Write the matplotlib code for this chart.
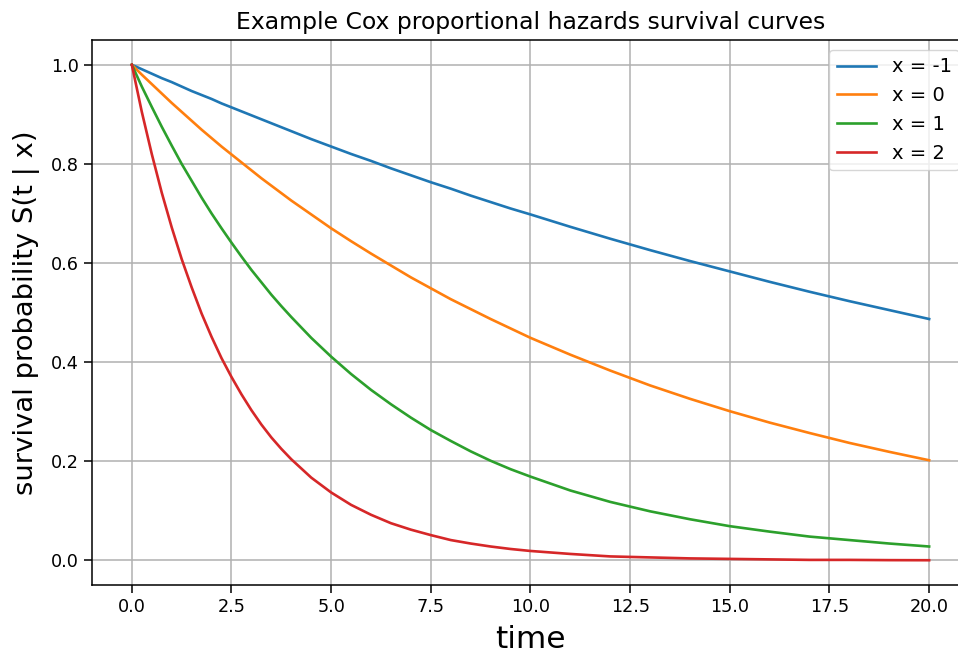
import matplotlib
matplotlib.use("Agg")
import matplotlib.pyplot as plt

# time points the curves were read at (denser where the curves bend most)
t = [0, 0.25, 0.5, 0.75, 1, 1.25, 1.5, 1.75, 2, 2.25, 2.5, 2.75, 3, 3.25, 3.5, 3.75, 4,
     4.5, 5, 5.5, 6, 6.5, 7, 7.5, 8, 8.5, 9, 9.5, 10,
     11, 12, 13, 14, 15, 16, 17, 18, 19, 20]

# survival values, one list per covariate value
s_xm1 = [1.0, 0.991, 0.982, 0.973, 0.965, 0.956, 0.947, 0.939, 0.931, 0.922, 0.914,
         0.906, 0.898, 0.890, 0.882, 0.874, 0.866,
         0.850, 0.835, 0.820, 0.806, 0.791, 0.777, 0.763, 0.750, 0.736, 0.723, 0.710, 0.698,
         0.673, 0.649, 0.626, 0.604, 0.583, 0.562, 0.542, 0.523, 0.505, 0.487]
s_x0 = [1.0, 0.980, 0.961, 0.942, 0.923, 0.905, 0.887, 0.869, 0.852, 0.835, 0.819,
        0.803, 0.787, 0.771, 0.756, 0.741, 0.726,
        0.698, 0.670, 0.644, 0.619, 0.595, 0.571, 0.549, 0.527, 0.507, 0.487, 0.468, 0.449,
        0.415, 0.383, 0.353, 0.326, 0.301, 0.278, 0.257, 0.237, 0.219, 0.202]
s_x1 = [1.0, 0.956, 0.915, 0.875, 0.837, 0.800, 0.766, 0.732, 0.700, 0.670, 0.641,
        0.613, 0.586, 0.561, 0.536, 0.513, 0.491,
        0.449, 0.411, 0.376, 0.344, 0.315, 0.288, 0.263, 0.241, 0.220, 0.201, 0.184, 0.169,
        0.141, 0.118, 0.099, 0.083, 0.069, 0.058, 0.048, 0.041, 0.034, 0.028]
s_x2 = [1.0, 0.905, 0.820, 0.742, 0.672, 0.608, 0.551, 0.498, 0.451, 0.408, 0.370,
        0.335, 0.303, 0.274, 0.248, 0.225, 0.204,
        0.167, 0.137, 0.112, 0.092, 0.075, 0.062, 0.051, 0.041, 0.034, 0.028, 0.023, 0.019,
        0.013, 0.008, 0.006, 0.004, 0.003, 0.002, 0.001, 0.001, 0.0005, 0.0003]

labels = ["x = -1", "x = 0", "x = 1", "x = 2"]
curves = [s_xm1, s_x0, s_x1, s_x2]

fig = plt.figure(figsize=(9.58, 6.62), dpi=100)
ax = fig.add_axes([0.096, 0.1163, 0.9155, 0.8233])

for lab, s in zip(labels, curves):
    ax.plot(t, s, label=lab, linewidth=1.9)

ax.set_title("Example Cox proportional hazards survival curves", fontsize=16.9, pad=8)
ax.set_xlabel("time", fontsize=22.5, labelpad=6)
ax.set_ylabel("survival probability S(t | x)", fontsize=19.7, labelpad=8)
ax.tick_params(labelsize=12.7, length=6, width=1.1)
for sp in ax.spines.values():
    sp.set_linewidth(1.1)
ax.grid(True, linewidth=1.1)
ax.legend(loc="upper right", fontsize=14)

fig.savefig("out.png", dpi=100)
